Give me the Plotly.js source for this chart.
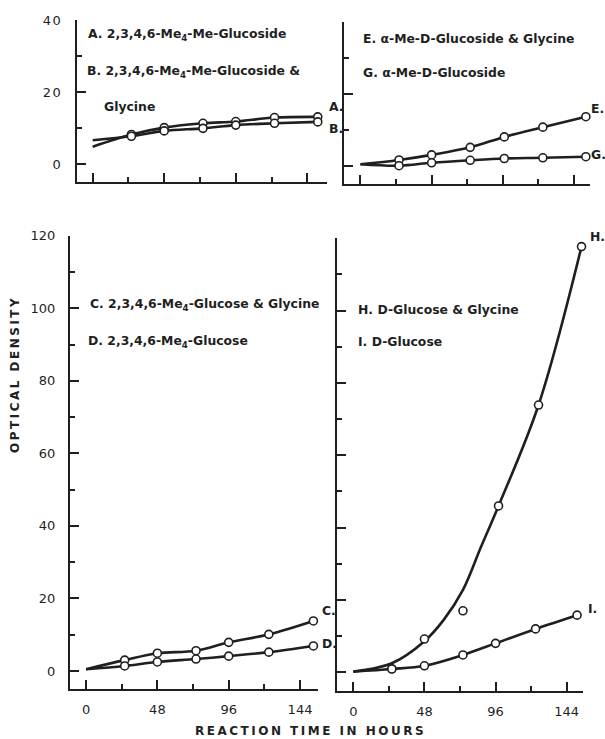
<!DOCTYPE html>
<html><head><meta charset="utf-8">
<script src="https://cdn.plot.ly/plotly-3.0.1.min.js"></script>
<style>
html,body{margin:0;padding:0;background:#fff;}
#chart{width:605px;height:739px;}
.annotation-text[data-unformatted^="REACTION"], .annotation-text[data-unformatted^="OPTICAL"]{letter-spacing:2.5px;}
.xtick text, .ytick text{letter-spacing:1.5px;}
</style></head><body><div id="chart"></div>
<script>
// ---- data ----
const hoursAB = [0, 26, 48, 74, 96, 122, 151];
const seriesA = [4.8, 8.2, 10.1, 11.3, 11.8, 12.9, 13.1];
const seriesB = [6.6, 7.7, 9.2, 9.9, 10.8, 11.3, 11.7];
const hoursEG = [0, 26, 48, 74, 97, 123, 152];
const seriesE = [0.4, 1.6, 3.0, 5.1, 8.0, 10.7, 13.6];
const seriesG = [0.4, 0.0, 0.8, 1.5, 2.0, 2.2, 2.5];
const hoursCD = [0, 26, 48, 74, 96, 123, 153];
const seriesC = [0.5, 3.0, 4.9, 5.6, 7.9, 10.1, 13.8];
const seriesD = [0.5, 1.4, 2.5, 3.3, 4.1, 5.2, 6.9];
const hoursI = [0, 26, 48, 74, 96, 123, 151];
const seriesI = [0.2, 0.9, 1.8, 4.8, 8.0, 12.0, 15.8];
const hoursH = [0, 26, 48, 74, 98, 125, 154];
const seriesH = [0.2, 1.0, 9.2, 17.0, 46.0, 73.9, 117.7];
// drawn (fitted) curve for H
const curveHoursH = [0, 26, 48, 61, 74, 86, 98, 125, 154];
const curveH = [0.2, 2.5, 8.6, 14.5, 22.8, 34.5, 46.0, 73.9, 117.7];
const xTickLabels = ['0', '48', '96', '144'];
const yTickTop = [0, 20, 40];
const yTickBottom = [0, 20, 40, 60, 80, 100, 120];

// ---- styling ----
const ink = '#1f1f1f';
const F = 'DejaVu Sans';
const W = 605, H = 739;
const px = v => v / W;
const py = v => 1 - v / H;

function lineTrace(x, y, xa, ya) {
  return {x, y, xaxis: xa, yaxis: ya, mode: 'lines', type: 'scatter', hoverinfo: 'skip',
    line: {color: ink, width: 2.6, shape: 'spline', smoothing: 1.0}, showlegend: false, cliponaxis: false};
}
function markTrace(x, y, xa, ya) {
  return {x: x.slice(1), y: y.slice(1), xaxis: xa, yaxis: ya, mode: 'markers', type: 'scatter',
    marker: {symbol: 'circle', size: 8, color: '#fff', line: {color: ink, width: 1.6}},
    showlegend: false, cliponaxis: false};
}

const data = [
  lineTrace(hoursAB, seriesA, 'x', 'y'), lineTrace(hoursAB, seriesB, 'x', 'y'),
  markTrace(hoursAB, seriesA, 'x', 'y'), markTrace(hoursAB, seriesB, 'x', 'y'),
  lineTrace(hoursEG, seriesE, 'x2', 'y2'), lineTrace(hoursEG, seriesG, 'x2', 'y2'),
  markTrace(hoursEG, seriesE, 'x2', 'y2'), markTrace(hoursEG, seriesG, 'x2', 'y2'),
  lineTrace(hoursCD, seriesC, 'x3', 'y3'), lineTrace(hoursCD, seriesD, 'x3', 'y3'),
  markTrace(hoursCD, seriesC, 'x3', 'y3'), markTrace(hoursCD, seriesD, 'x3', 'y3'),
  lineTrace(curveHoursH, curveH, 'x4', 'y4'), lineTrace(hoursI, seriesI, 'x4', 'y4'),
  markTrace(hoursH, seriesH, 'x4', 'y4'), markTrace(hoursI, seriesI, 'x4', 'y4')
];

function axis(domain, range, minorDt, labels, anchor, tickvals, ticktext, isX) {
  return {
    domain, range, anchor, showline: true, linecolor: ink, linewidth: 2,
    ticks: 'inside', ticklen: 9, tickwidth: 2, tickcolor: ink,
    tickmode: 'array', tickvals, ticktext,
    showticklabels: labels, showgrid: false, zeroline: false, fixedrange: true,
    minor: {tickmode: 'linear', dtick: minorDt, tick0: 0, ticks: 'inside', ticklen: 5, tickwidth: 2, tickcolor: ink, showgrid: false},
    tickfont: {family: F, size: 13, color: ink},
    ticklabelstandoff: isX ? 7 : 10
  };
}
const xVals = xTickLabels.map(Number);

const layout = {
  width: W, height: H, margin: {l: 0, r: 0, t: 0, b: 0},
  paper_bgcolor: '#fff', plot_bgcolor: 'rgba(0,0,0,0)', showlegend: false,
  font: {family: F, color: ink},
  xaxis:  axis([px(77), px(327)], [-10.5, 157.2], 24, false, 'y', xVals, xTickLabels, true),
  yaxis:  axis([py(182), py(20)], [-5, 40], 10, true, 'x', yTickTop, yTickTop.map(String), false),
  xaxis2: axis([px(344), px(590)], [-11.1, 154.8], 24, false, 'y2', xVals, xTickLabels, true),
  yaxis2: axis([py(184.3), py(21.7)], [-5.17, 40], 10, false, 'x2', yTickTop, yTickTop.map(String), false),
  xaxis3: axis([px(70), px(318)], [-10.8, 156.1], 24, true, 'y3', xVals, xTickLabels, true),
  yaxis3: axis([py(689), py(235.7)], [-4.96, 120], 10, true, 'x3', yTickBottom, yTickBottom.map(String), false),
  xaxis4: axis([px(336.7), px(582.7)], [-11.2, 154.8], 24, true, 'y4', xVals, xTickLabels, true),
  yaxis4: axis([py(691), py(238.3)], [-5.17, 120], 10, false, 'x4', yTickBottom, yTickBottom.map(String), false),
  annotations: []
};

const lab = {family: F, size: 12.4, color: ink, weight: 'bold'};
function note(text, x, y) {
  layout.annotations.push({text, x: px(x), y: py(y), xref: 'paper', yref: 'paper',
    xanchor: 'left', yanchor: 'middle', showarrow: false, font: lab});
}
note('A. 2,3,4,6-Me<sub>4</sub>-Me-Glucoside', 86, 35);
note('B. 2,3,4,6-Me<sub>4</sub>-Me-Glucoside &amp;', 85, 71);
note('Glycine', 102, 107);
note('E. α-Me-D-Glucoside &amp; Glycine', 361, 38);
note('G. α-Me-D-Glucoside', 361, 73);
note('C. 2,3,4,6-Me<sub>4</sub>-Glucose &amp; Glycine', 88, 304);
note('D. 2,3,4,6-Me<sub>4</sub>-Glucose', 86, 342);
note('H. D-Glucose &amp; Glycine', 356, 309);
note('I. D-Glucose', 356, 341);
note('A.', 327, 107); note('B.', 327, 128);
note('E.', 589, 108); note('G.', 589, 154);
note('C.', 320, 610); note('D.', 320, 643);
note('H.', 588, 236); note('I.', 586, 608);

const ttl = {family: F, size: 12, color: ink, weight: 'bold'};
layout.annotations.push({text: 'OPTICAL DENSITY', x: px(15), y: py(375), xref: 'paper', yref: 'paper',
  textangle: -90, showarrow: false, xanchor: 'center', yanchor: 'middle', font: ttl});
layout.annotations.push({text: 'REACTION TIME IN HOURS', x: px(310), y: py(731), xref: 'paper', yref: 'paper',
  showarrow: false, xanchor: 'center', yanchor: 'middle', font: ttl});

Plotly.newPlot('chart', data, layout, {staticPlot: true, displayModeBar: false});
</script></body></html>
